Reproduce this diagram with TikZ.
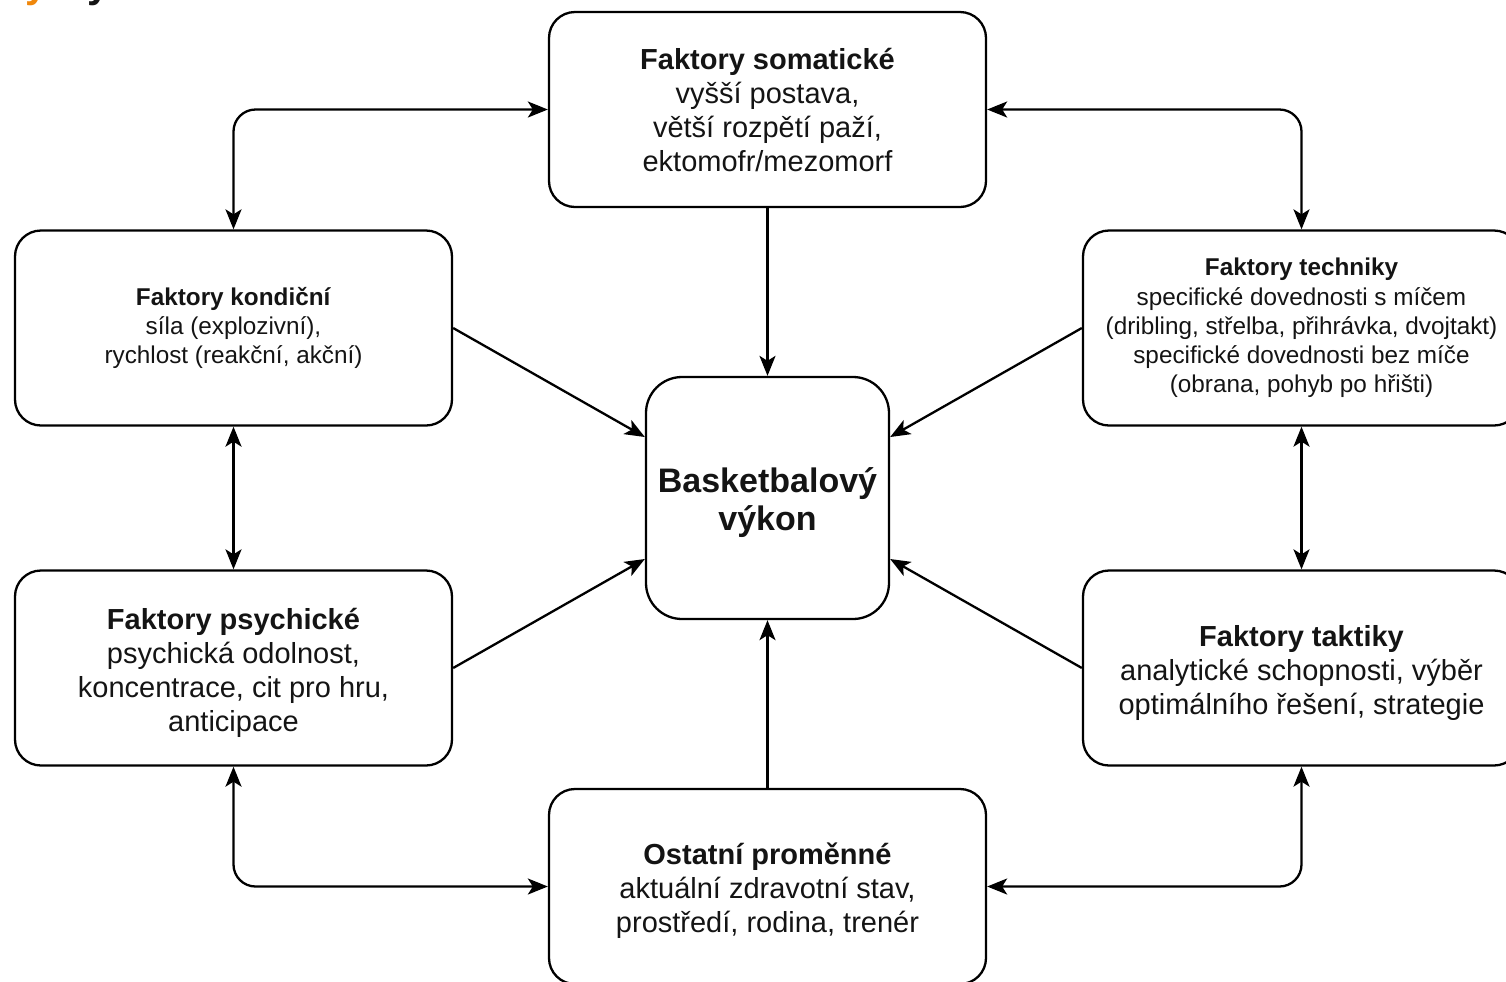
\documentclass[tikz,border=0pt]{standalone}
\usepackage{fontspec}
\setmainfont{Liberation Sans}
\usetikzlibrary{arrows.meta,calc}
\definecolor{frag}{RGB}{240,135,10}
\definecolor{txt}{RGB}{20,20,20}
\begin{document}
\begin{tikzpicture}[x=0.5pt,y=-0.5pt,
  box/.style={draw, line width=1.15pt, rounded corners=13pt, minimum width=218.5pt, minimum height=97.5pt, align=center, inner sep=0pt, text=txt},
  big/.style={font=\fontsize{14.5}{17}\selectfont},
  small/.style={font=\fontsize{12.15}{14.6}\selectfont},
  tip/.tip={Stealth[length=10pt,width=8pt,inset=2.5pt]},
  conn/.style={line width=1.15pt, -tip},
  biconn/.style={line width=1.15pt, tip-tip, rounded corners=11pt}]
\useasboundingbox (0,0) rectangle (1506,981);

% cropped text fragments at the top-left
\node[anchor=base, inner sep=0pt, text=frag, font=\fontsize{20}{20}\selectfont\bfseries] (fa) at (37,-3) {y};
\node[anchor=base, inner sep=0pt, text=txt, font=\fontsize{20}{20}\selectfont\bfseries] (fb) at (99,-3) {y};

\node[box,big] (som) at (767.5,109.5) {\textbf{Faktory somatické}\\vyšší postava,\\větší rozpětí paží,\\ektomofr/mezomorf};
\node[box,small] (kond) at (233.5,328) {\textbf{Faktory kondiční}\\síla (explozivní),\\rychlost (reakční, akční)};
\node[box,small] (tech) at (1301.5,328) {\textbf{Faktory techniky}\\specifické dovednosti s míčem\\(dribling, střelba, přihrávka, dvojtakt)\\specifické dovednosti bez míče\\(obrana, pohyb po hřišti)};
\node[box,big] (psy) at (233.5,668) {\rule{0pt}{15pt}\textbf{Faktory psychické}\\psychická odolnost,\\koncentrace, cit pro hru,\\anticipace};
\node[box,big] (tak) at (1301.5,668) {\rule{0pt}{15pt}\textbf{Faktory taktiky}\\analytické schopnosti, výběr\\optimálního řešení, strategie};
\node[box,big] (ost) at (767.5,886.5) {\rule{0pt}{15pt}\textbf{Ostatní proměnné}\\aktuální zdravotní stav,\\prostředí, rodina, trenér};
\node[box, rounded corners=18pt, minimum width=121.5pt, minimum height=121pt, font=\fontsize{17}{19}\selectfont\bfseries] (cen) at (767.5,498) {\rule{0pt}{17.5pt}Basketbalový\\výkon};

\draw[biconn] (som.west) -| (kond.north);
\draw[biconn] (som.east) -| (tech.north);
\draw[biconn] (kond.south) -- (psy.north);
\draw[biconn] (tech.south) -- (tak.north);
\draw[biconn] (psy.south) |- (ost.west);
\draw[biconn] (tak.south) |- (ost.east);

\draw[conn] (som.south) -- (cen.north);
\draw[conn] (ost.north) -- (cen.south);
\draw[conn] (kond.east) -- ($(cen.west)+(0,-61)$);
\draw[conn] (tech.west) -- ($(cen.east)+(0,-61)$);
\draw[conn] (psy.east) -- ($(cen.west)+(0,61)$);
\draw[conn] (tak.west) -- ($(cen.east)+(0,61)$);
\end{tikzpicture}
\end{document}
